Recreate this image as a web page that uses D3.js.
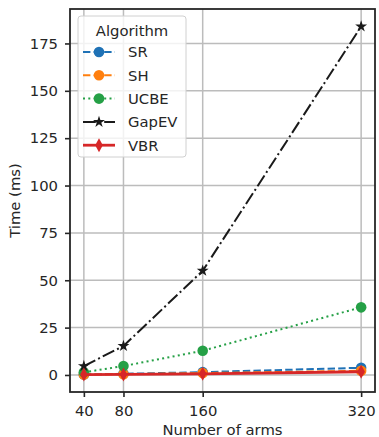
<!DOCTYPE html>
<html>
<head>
<meta charset="utf-8">
<script src="https://cdn.jsdelivr.net/npm/d3@7"></script>
<style>
  html, body { margin: 0; padding: 0; background: #fff; }
  svg { display: block; font-family: "DejaVu Sans", sans-serif; }
</style>
</head>
<body>
<div id="chart"></div>
<script>
// number of arms (x) and timings in ms per algorithm
const arms = [40, 80, 160, 320];
const srTimes = [0.3, 0.6, 1.5, 3.8];
const shTimes = [0.2, 0.4, 1.0, 2.2];
const ucbeTimes = [1.4, 4.7, 12.8, 35.7];
const gapevTimes = [4.7, 15.3, 55.0, 184.0];
const vbrTimes = [0.2, 0.3, 0.6, 1.7];
const yTicks = [0, 25, 50, 75, 100, 125, 150, 175];

const W = 379, H = 437;
const m = { top: 9, right: 4, bottom: 45, left: 70 };
const ink = '#262626';
const FS = 14.8;

const series = [
  { name: 'SR', vals: srTimes, color: '#1f72b6', dash: '7.4,3.2', marker: 'circle' },
  { name: 'SH', vals: shTimes, color: '#ff7f0e', dash: '7.4,3.2', marker: 'circle' },
  { name: 'UCBE', vals: ucbeTimes, color: '#25a046', dash: '2,3.3', marker: 'circle' },
  { name: 'GapEV', vals: gapevTimes, color: '#1a1a1a', dash: '12.8,3.2,2,3.2', marker: 'star' },
  { name: 'VBR', vals: vbrTimes, color: '#d62728', dash: null, marker: 'diamond' }
];

const allVals = series.flatMap(s => s.vals);
const yMin = d3.min(allVals), yMax = d3.max(allVals);
const yPad = (yMax - yMin) * 0.05;
const xPad = (d3.max(arms) - d3.min(arms)) * 0.05;

const x = d3.scaleLinear().domain([d3.min(arms) - xPad, d3.max(arms) + xPad]).range([m.left, W - m.right]);
const y = d3.scaleLinear().domain([yMin - yPad, yMax + yPad]).range([H - m.bottom, m.top]);

const svg = d3.select('#chart').append('svg').attr('width', W).attr('height', H);

// grid
const grid = svg.append('g').attr('stroke', '#bcbcbc').attr('stroke-width', 1.5);
grid.selectAll('line.gx').data(arms).join('line').attr('class', 'gx')
  .attr('x1', d => x(d)).attr('x2', d => x(d)).attr('y1', m.top).attr('y2', H - m.bottom);
grid.selectAll('line.gy').data(yTicks).join('line').attr('class', 'gy')
  .attr('y1', d => y(d)).attr('y2', d => y(d)).attr('x1', m.left).attr('x2', W - m.right);

// axes
const xAxis = svg.append('g').attr('transform', `translate(0,${H - m.bottom})`)
  .call(d3.axisBottom(x).tickValues(arms).tickSize(5).tickPadding(8));
const yAxis = svg.append('g').attr('transform', `translate(${m.left},0)`)
  .call(d3.axisLeft(y).tickValues(yTicks).tickSize(5).tickPadding(7));
[xAxis, yAxis].forEach(a => {
  a.select('.domain').remove();
  a.selectAll('.tick line').attr('stroke', ink).attr('stroke-width', 1.6);
  a.selectAll('.tick text').attr('fill', ink).attr('font-size', FS).attr('font-family', 'DejaVu Sans');
});

// frame
svg.append('rect').attr('x', m.left).attr('y', m.top)
  .attr('width', W - m.left - m.right).attr('height', H - m.top - m.bottom)
  .attr('fill', 'none').attr('stroke', ink).attr('stroke-width', 1.8);

svg.append('text').attr('x', (m.left + W - m.right) / 2).attr('y', H - 2.5)
  .attr('text-anchor', 'middle').attr('font-size', FS).attr('fill', ink).text('Number of arms');
svg.append('text').attr('transform', `translate(20,${(m.top + H - m.bottom) / 2}) rotate(-90)`)
  .attr('text-anchor', 'middle').attr('font-size', FS).attr('fill', ink).text('Time (ms)');

const star = d3.symbol().type(d3.symbolStar).size(44)();
const diamond = 'M0,-7L3.8,0L0,7L-3.8,0Z';
function drawMarker(sel, s) {
  if (s.marker === 'circle') sel.append('circle').attr('r', 5.3).attr('fill', s.color);
  else if (s.marker === 'star') sel.append('path').attr('d', star).attr('fill', s.color);
  else sel.append('path').attr('d', diamond).attr('fill', s.color);
}

const line = d3.line().x(d => x(d[0])).y(d => y(d[1]));
const plot = svg.append('g');
series.forEach(s => {
  const pts = arms.map((a, i) => [a, s.vals[i]]);
  const g = plot.append('g');
  g.append('path').attr('d', line(pts)).attr('fill', 'none').attr('stroke', s.color)
    .attr('stroke-width', s.marker === 'diamond' ? 2.8 : 2).attr('stroke-dasharray', s.dash);
  pts.forEach(p => {
    const mk = g.append('g').attr('transform', `translate(${x(p[0])},${y(p[1])})`);
    drawMarker(mk, s);
  });
});

// legend
const leg = svg.append('g').attr('transform', 'translate(78,16)');
leg.append('rect').attr('width', 108).attr('height', 141).attr('rx', 3)
  .attr('fill', 'rgba(255,255,255,0.8)').attr('stroke', '#d0d0d0').attr('stroke-width', 1);
leg.append('text').attr('x', 54).attr('y', 20).attr('text-anchor', 'middle')
  .attr('font-size', FS).attr('fill', ink).text('Algorithm');
series.forEach((s, i) => {
  const cy = 36 + i * 23.3;
  const it = leg.append('g').attr('transform', `translate(0,${cy})`);
  it.append('line').attr('x1', 5).attr('x2', 37).attr('stroke', s.color)
    .attr('stroke-width', s.marker === 'diamond' ? 2.8 : 2).attr('stroke-dasharray', s.dash);
  drawMarker(it.append('g').attr('transform', 'translate(21,0)'), s);
  it.append('text').attr('x', 50).attr('y', 5.3).attr('font-size', FS).attr('fill', ink).text(s.name);
});
</script>
</body>
</html>
